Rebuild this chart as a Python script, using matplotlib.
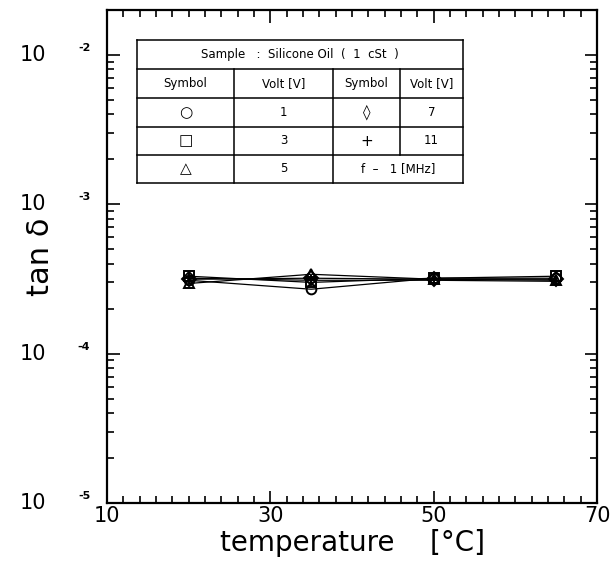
import matplotlib
matplotlib.use("Agg")
import matplotlib.pyplot as plt
from matplotlib.ticker import FixedLocator, MultipleLocator, NullFormatter

plt.rcParams['font.family'] = ['DejaVu Sans']

# measured tan(delta) at four temperatures, one series per applied voltage
temps = [20, 35, 50, 65]
tan_1v = [3.1e-4, 2.7e-4, 3.2e-4, 3.2e-4]
tan_3v = [3.3e-4, 3.0e-4, 3.2e-4, 3.3e-4]
tan_5v = [2.95e-4, 3.4e-4, 3.15e-4, 3.1e-4]
tan_7v = [3.15e-4, 3.2e-4, 3.15e-4, 3.15e-4]
tan_11v = [3.2e-4, 3.1e-4, 3.1e-4, 3.05e-4]

series = [
    (tan_1v, 'o', 'none'),
    (tan_3v, 's', 'none'),
    (tan_5v, '^', 'none'),
    (tan_7v, 'D', 'none'),
    (tan_11v, '+', 'black'),
]

x_ticks = [10, 30, 50, 70]
y_ticks = [1e-5, 1e-4, 1e-3, 1e-2]
y_tick_labels = ['10', '10', '10', '10']
y_tick_exps = ['-5', '-4', '-3', '-2']

# table contents
table_title = 'Sample   :  Silicone Oil  (  1  cSt  )'
table_header = ['Symbol', 'Volt [V]', 'Symbol', 'Volt [V]']
table_rows = [['○', '1', '◊', '7'],
              ['□', '3', '+', '11'],
              ['△', '5', '', '']]
freq_note = 'f  –   1 [MHz]'

fig = plt.figure(figsize=(6.15, 5.64), dpi=100)
ax = fig.add_axes([107 / 615, 61 / 564, 490 / 615, 493 / 564])

for vals, m, fc in series:
    ax.plot(temps, vals, color='black', lw=0.9, marker=m, ms=7,
            mfc=fc, mec='black', mew=1.4)

ax.set_yscale('log')
ax.set_xlim(10, 70)
ax.set_ylim(1e-5, 2e-2)

ax.xaxis.set_major_locator(FixedLocator(x_ticks))
ax.xaxis.set_minor_locator(MultipleLocator(2))
ax.set_xticklabels([str(t) for t in x_ticks])
ax.yaxis.set_major_locator(FixedLocator(y_ticks))
ax.yaxis.set_minor_formatter(NullFormatter())
ax.set_yticklabels([''] * len(y_ticks))

ax.tick_params(which='both', direction='in', top=True, right=True, width=1.2)
ax.tick_params(which='major', length=9, labelsize=15, pad=2)
ax.tick_params(which='minor', length=5)
for s in ax.spines.values():
    s.set_linewidth(1.6)

# y tick labels as 10 with raised exponent
for v, base, e in zip(y_ticks, y_tick_labels, y_tick_exps):
    ax.annotate(base, xy=(0, v), xycoords=('axes fraction', 'data'),
                xytext=(-44, 0), textcoords='offset points',
                ha='right', va='center', fontsize=15)
    ax.annotate(e, xy=(0, v), xycoords=('axes fraction', 'data'),
                xytext=(-12, 5), textcoords='offset points',
                ha='right', va='center', fontsize=8, fontweight='bold')

ax.set_xlabel('temperature    [°C]', fontsize=20, labelpad=2)
ax.set_ylabel('tan δ', fontsize=22, labelpad=34)

# inset table drawn in pixel coords relative to the axes box
def fx(px):
    return (px - 107) / 490

def fy(py):
    return (503 - py) / 493

col_x = [137, 234, 333, 400, 463]
row_y = [40, 69, 98, 127, 155, 183]
kw = dict(transform=ax.transAxes, color='black', lw=1.1)

for y in row_y:
    ax.plot([fx(col_x[0]), fx(col_x[-1])], [fy(y), fy(y)], **kw)
for i, x in enumerate(col_x):
    y_end = row_y[-1]
    if i == 3:
        y_end = row_y[4]
    ax.plot([fx(x), fx(x)], [fy(row_y[1] if 0 < i < 4 else row_y[0]), fy(y_end)], **kw)

tkw = dict(transform=ax.transAxes, ha='center', va='center', fontsize=8.5)
ax.text(fx((col_x[0] + col_x[-1]) / 2), fy((row_y[0] + row_y[1]) / 2), table_title, **tkw)
rows = [table_header] + table_rows
for r, row in enumerate(rows):
    yc = fy((row_y[r + 1] + row_y[r + 2]) / 2)
    for c, txt in enumerate(row):
        if txt:
            size = 11 if txt in ('○', '□', '△', '◊', '+') else 8.5
            ax.text(fx((col_x[c] + col_x[c + 1]) / 2), yc, txt,
                    transform=ax.transAxes, ha='center', va='center', fontsize=size)
ax.text(fx((col_x[2] + col_x[4]) / 2), fy((row_y[4] + row_y[5]) / 2), freq_note, **tkw)

fig.savefig('out.png', dpi=100)
